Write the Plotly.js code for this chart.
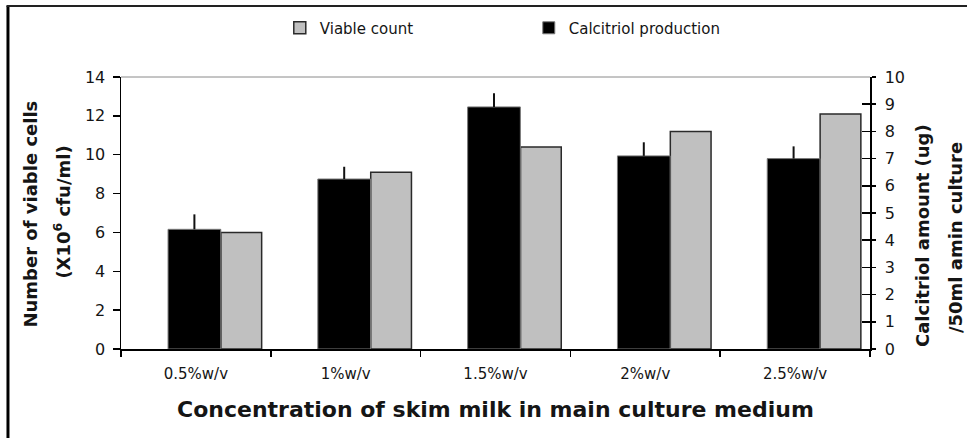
<!DOCTYPE html>
<html>
<head>
<meta charset="utf-8">
<script src="https://cdn.plot.ly/plotly-3.0.1.min.js"></script>
<style>
  html, body { margin: 0; padding: 0; background: #fff; }
  #chart { width: 967px; height: 438px; }
</style>
</head>
<body>
<div id="chart"></div>
<script>
// Skim milk concentration in the main culture medium
const concentrations = ['0.5%w/v', '1%w/v', '1.5%w/v', '2%w/v', '2.5%w/v'];

// Viable count (X10^6 cfu/ml), left axis
const viableCount = [6.0, 9.1, 10.4, 11.2, 12.1];

// Calcitriol production (ug / 50 ml main culture), right axis
const calcitriol = [4.4, 6.25, 8.9, 7.1, 7.0];
const calcitriolErr = [0.55, 0.45, 0.5, 0.5, 0.45];

const FONT = 'DejaVu Sans, Liberation Sans, Arial, sans-serif';
const TXT = '#151515';

const traces = [
  {
    type: 'bar',
    name: 'Calcitriol production',
    x: concentrations,
    y: calcitriol,
    yaxis: 'y2',
    offset: -0.186,
    width: 0.352,
    marker: { color: '#000000', line: { color: '#7a7a7a', width: 1 } },
    error_y: {
      type: 'data', symmetric: false,
      array: calcitriolErr,
      arrayminus: calcitriol.map(() => 0),
      color: '#111', thickness: 2, width: 0
    },
    legendrank: 2
  },
  {
    type: 'bar',
    name: 'Viable count',
    x: concentrations,
    y: viableCount,
    yaxis: 'y',
    offset: 0.167,
    width: 0.272,
    marker: { color: '#c0c0c0', line: { color: '#2a2a2a', width: 1.5 } },
    legendrank: 1
  },
  // invisible carrier for the inward half of the right-hand tick marks
  {
    type: 'scatter', x: [concentrations[0]], y: [0], yaxis: 'y3',
    mode: 'markers', marker: { opacity: 0 }, showlegend: false, hoverinfo: 'skip'
  }
];

const layout = {
  width: 967,
  height: 438,
  margin: { l: 121, r: 97, t: 77, b: 89 },
  paper_bgcolor: '#ffffff',
  plot_bgcolor: '#ffffff',
  font: { family: FONT, color: TXT, size: 16 },
  showlegend: true,
  legend: {
    orientation: 'h',
    x: 0.212, xanchor: 'left',
    y: 1.18, yanchor: 'middle',
    font: { family: FONT, size: 15, color: TXT },
    entrywidth: 204,
    itemwidth: 30,
    bgcolor: 'rgba(0,0,0,0)'
  },
  xaxis: {
    type: 'category',
    range: [-0.5, 4.5],
    showline: true, linecolor: '#000', linewidth: 1.5,
    ticks: 'outside', tickson: 'boundaries', ticklen: 6, tickcolor: '#000', tickwidth: 1.5,
    ticklabelstandoff: 10,
    tickfont: { family: FONT, size: 15, color: TXT },
    showgrid: false, zeroline: false
  },
  yaxis: {
    range: [0, 14],
    tickvals: [0, 2, 4, 6, 8, 10, 12, 14],
    showline: true, linecolor: '#000', linewidth: 1.5,
    ticks: 'outside', ticklen: 7, tickcolor: '#000', tickwidth: 1.5,
    ticklabelstandoff: 4,
    tickfont: { family: FONT, size: 16, color: TXT },
    showgrid: false, zeroline: false
  },
  yaxis2: {
    overlaying: 'y', side: 'right', anchor: 'x',
    range: [0, 10],
    tickvals: [0, 1, 2, 3, 4, 5, 6, 7, 8, 9, 10],
    showline: true, linecolor: '#000', linewidth: 1.5,
    ticks: 'outside', ticklen: 4, tickcolor: '#000', tickwidth: 1.5,
    ticklabelstandoff: 6,
    tickfont: { family: FONT, size: 16, color: TXT },
    showgrid: false, zeroline: false
  },
  yaxis3: {
    overlaying: 'y', side: 'right', anchor: 'x',
    range: [0, 10],
    tickvals: [0, 1, 2, 3, 4, 5, 6, 7, 8, 9, 10],
    showline: false,
    ticks: 'inside', ticklen: 8, tickcolor: '#000', tickwidth: 1.5,
    showticklabels: false,
    showgrid: false, zeroline: false
  },
  shapes: [
    // thin frame line across the top of the plot area
    { type: 'line', xref: 'paper', yref: 'paper', x0: 0, x1: 1, y0: 1, y1: 1,
      line: { color: '#8a8a8a', width: 1 } },
    // outer figure border (left and top)
    { type: 'line', xref: 'paper', yref: 'paper', x0: -0.1509, x1: -0.1509, y0: -0.34, y1: 1.261,
      line: { color: '#000', width: 3 } },
    { type: 'line', xref: 'paper', yref: 'paper', x0: -0.1529, x1: 1.2, y0: 1.261, y1: 1.261,
      line: { color: '#222', width: 2 } }
  ],
  annotations: [
    { text: '<b>Number of viable cells</b>', xref: 'paper', yref: 'paper',
      x: -0.1202, y: 0.498, textangle: -90, showarrow: false,
      xanchor: 'center', yanchor: 'middle',
      font: { family: FONT, size: 18, color: TXT } },
    { text: '<b>(X10<sup>6</sup> cfu/ml)</b>', xref: 'paper', yref: 'paper',
      x: -0.0788, y: 0.505, textangle: -90, showarrow: false,
      xanchor: 'center', yanchor: 'middle',
      font: { family: FONT, size: 18, color: TXT } },
    { text: '<b>Calcitriol amount (ug)</b>', xref: 'paper', yref: 'paper',
      x: 1.0694, y: 0.419, textangle: -90, showarrow: false,
      xanchor: 'center', yanchor: 'middle',
      font: { family: FONT, size: 18, color: TXT } },
    { text: '<b>/50ml amin culture</b>', xref: 'paper', yref: 'paper',
      x: 1.1135, y: 0.408, textangle: -90, showarrow: false,
      xanchor: 'center', yanchor: 'middle',
      font: { family: FONT, size: 18, color: TXT } },
    { text: '<b>Concentration of skim milk in main culture medium</b>', xref: 'paper', yref: 'paper',
      x: 0.5, y: -0.224, showarrow: false,
      xanchor: 'center', yanchor: 'middle',
      font: { family: FONT, size: 22, color: TXT } }
  ]
};

Plotly.newPlot('chart', traces, layout, { staticPlot: true, displayModeBar: false });
</script>
</body>
</html>
